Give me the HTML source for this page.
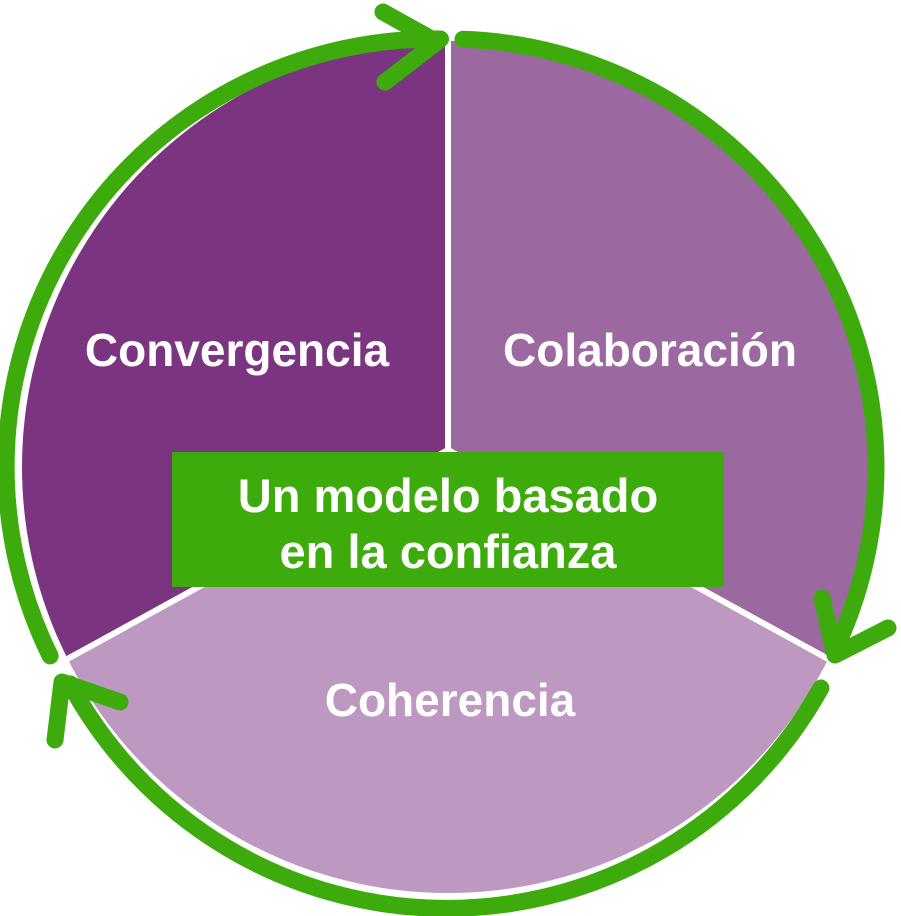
<!DOCTYPE html>
<html><head><meta charset="utf-8"><style>
html,body{margin:0;padding:0;background:#fff;}
svg{display:block;}
text{font-family:"Liberation Sans",Arial,sans-serif;font-weight:bold;fill:#fff;}
</style></head><body>
<svg width="901" height="916" viewBox="0 0 901 916" xmlns="http://www.w3.org/2000/svg">
<defs><clipPath id="c"><circle cx="448" cy="467" r="426"/></clipPath></defs>
<g clip-path="url(#c)">
<polygon points="448,450 448,0 0,0 0,696" fill="#7b3580"/>
<polygon points="448,450 448,0 901,0 901,699" fill="#9c68a0"/>
<polygon points="448,450 0,696 0,916 901,916 901,699" fill="#bd98c0"/>
<line x1="448" y1="450" x2="448" y2="30" stroke="#fff" stroke-width="6"/>
<line x1="448" y1="450" x2="0" y2="696" stroke="#fff" stroke-width="6"/>
<line x1="448" y1="450" x2="901" y2="699" stroke="#fff" stroke-width="6"/>
</g>
<g fill="none" stroke="#3dab0c" stroke-width="17" stroke-linecap="round" stroke-linejoin="round">
<path d="M 50.1 655.9 A 428 428 0 0 1 440.5 39.0"/>
<polyline points="383,12 437,42 385,82"/>
<path d="M 462.9 39.3 A 428 428 0 0 1 835.9 647.9"/>
<polyline points="822,598 835,655 888,628"/>
<path d="M 820.9 688.0 A 428 428 0 0 1 70.1 683.9"/>
<polyline points="120,702 62,682 55,740"/>
</g>
<text x="237" y="366" font-size="46" text-anchor="middle">Convergencia</text>
<text x="650" y="366" font-size="46" text-anchor="middle">Colaboración</text>
<text x="450" y="716" font-size="46" text-anchor="middle">Coherencia</text>
<rect x="172" y="452" width="552" height="135" fill="#3dab0c"/>
<text x="448" y="512" font-size="47" text-anchor="middle">Un modelo basado</text>
<text x="448" y="568" font-size="47" text-anchor="middle">en la confianza</text>
</svg>
</body></html>
